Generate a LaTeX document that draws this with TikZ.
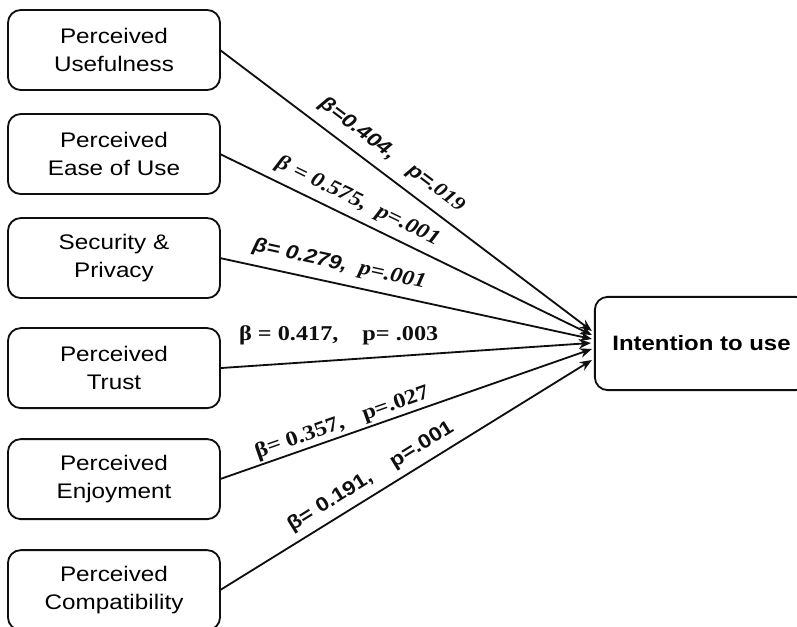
\documentclass[tikz,border=0pt]{standalone}
\usepackage{fontspec}
\setmainfont{Liberation Sans}[FakeStretch=1.15]
\newfontfamily\timesfont{Liberation Serif}[FakeStretch=1.15]
\usepackage{tikz}
\usetikzlibrary{arrows.meta,positioning,calc}
\definecolor{ink}{RGB}{15,15,15}
\tikzset{
  factorbox/.style={rectangle, rounded corners=3.2mm, draw=ink, line width=1.3pt,
                    fill=white, align=center, font=\fontsize{15}{20}\selectfont,
                    minimum width=5.3cm, minimum height=2cm, inner sep=2pt,
                    outer sep=0pt},
  outcomebox/.style={factorbox, font=\fontsize{14.8}{20}\selectfont\bfseries,
                     minimum width=5.33cm, minimum height=2.33cm},
  arr/.style={-{Stealth[length=3mm,width=2.4mm]}, line width=1.3pt, draw=ink},
  coef/.style={font=\fontsize{14}{16}\selectfont\bfseries, text=ink, inner sep=1pt},
  coefserif/.style={coef, font=\timesfont\fontsize{15}{17}\selectfont\bfseries},
}
\begin{document}
\begin{tikzpicture}[x=0.025cm, y=-0.025cm]
  \useasboundingbox (0,0) rectangle (797,626);
  \clip (0,0) rectangle (797,626);

  % ---- predictors ----
  \node[factorbox] (pu) at (114,50) {Perceived\\Usefulness};
  \node[factorbox, below=6mm of pu] (peou) {Perceived\\Ease of Use};
  \node[factorbox, below=6mm of peou] (sp) {Security \&\\Privacy};
  \node[factorbox, below=7.5mm of sp] (pt) {Perceived\\Trust};
  \node[factorbox, below=7.75mm of pt] (pe) {Perceived\\Enjoyment};
  \node[factorbox, below=7.75mm of pe] (pc) {Perceived\\Compatibility};

  % ---- outcome ----
  \node[outcomebox] (iu) at (701.5,343.5) {Intention to use};
  \coordinate (in1) at ($(iu.west)+(-3,-12.5)$);
  \coordinate (in2) at ($(iu.west)+(-3,-8.5)$);
  \coordinate (in3) at ($(iu.west)+(-3,-4.5)$);
  \coordinate (in4) at ($(iu.west)+(-4,-0.5)$);
  \coordinate (in5) at ($(iu.west)+(-3,5.5)$);
  \coordinate (in6) at ($(iu.west)+(-3,16.5)$);

  % ---- paths ----
  \draw[arr] (pu.east) -- (in1)
    node[coef, sloped, above, pos=0.43, inner sep=7pt]
    {\itshape β=0.404,\hspace{5mm}p={\timesfont .019}};
  \draw[arr] (peou.east) -- (in2)
    node[coefserif, sloped, above, pos=0.35, inner sep=5pt]
    {\itshape β = 0.575,\hspace{3mm}p=.001};
  \draw[arr] (sp.east) -- (in3)
    node[coef, sloped, above, pos=0.31, inner sep=6pt]
    {\itshape β= 0.279,\hspace{3mm}{\timesfont\fontsize{15}{17}\selectfont p=.001}};
  \draw[arr] (pt.east) -- (in4)
    node[coefserif, above, pos=0.32, inner sep=10pt]
    {β = 0.417,\hspace{6mm}p= .003};
  \draw[arr] (pe.east) -- (in5)
    node[coefserif, sloped, above, pos=0.34, inner sep=1.5pt]
    {β= 0.357,\hspace{5mm}p=.027};
  \draw[arr] (pc.east) -- (in6)
    node[coef, sloped, above, pos=0.43, inner sep=5pt]
    {β= 0.191,\hspace{6mm}p=.001};
\end{tikzpicture}
\end{document}
